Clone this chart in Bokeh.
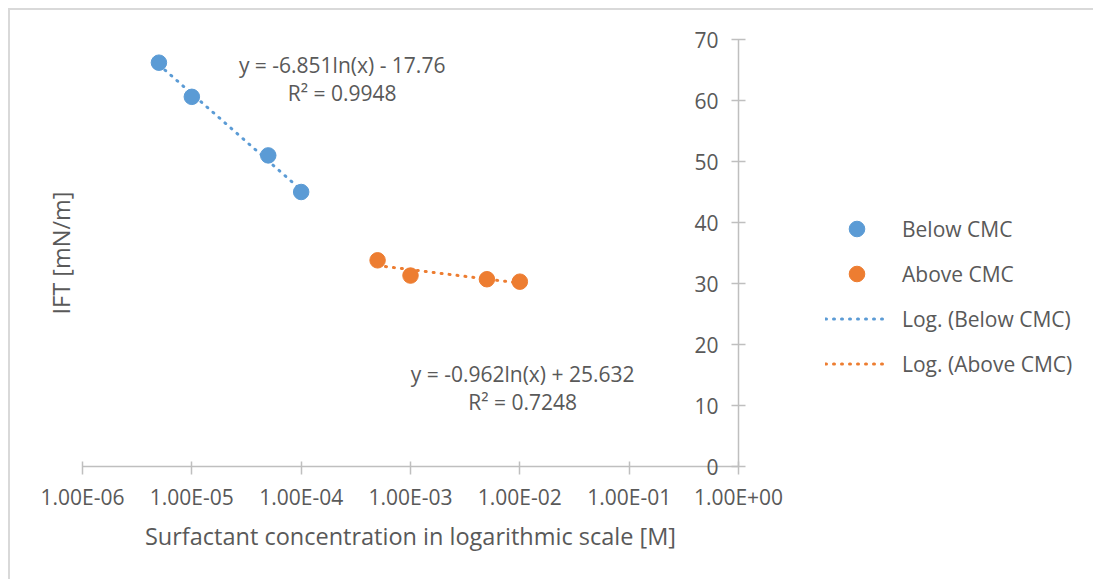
from bokeh.plotting import figure
from bokeh.models import (LinearAxis, LogAxis, FixedTicker, Label, Legend, LegendItem, Range1d)
from bokeh.embed import file_html
from bokeh.resources import INLINE
import numpy as np
import math

# ---- data ----
below_x = [5e-6, 1e-5, 5e-5, 1e-4]
below_y = [66.2, 60.6, 51.0, 45.0]
above_x = [5e-4, 1e-3, 5e-3, 1e-2]
above_y = [33.8, 31.3, 30.7, 30.3]

# trendline coefficients  y = a*ln(x) + b
below_fit = [-6.851, -17.76]
above_fit = [-0.962, 25.632]
below_eq = ["y = -6.851ln(x) - 17.76", "R² = 0.9948"]
above_eq = ["y = -0.962ln(x) + 25.632", "R² = 0.7248"]

x_ticks = [1e-6, 1e-5, 1e-4, 1e-3, 1e-2, 1e-1, 1e0]
x_tick_labels = ["1.00E-06", "1.00E-05", "1.00E-04", "1.00E-03", "1.00E-02", "1.00E-01", "1.00E+00"]
y_ticks = [0, 10, 20, 30, 40, 50, 60, 70]

series_names = ["Below CMC", "Above CMC", "Log. (Below CMC)", "Log. (Above CMC)"]
x_title = "Surfactant concentration in logarithmic scale [M]"
y_title = "IFT [mN/m]"

# ---- style / layout ----
BLUE = "#5B9BD5"
ORANGE = "#ED7D31"
TEXT = "#595959"
AXIS = "#BFBFBF"
FONT = "Open Sans"
FS = "21px"
FS_T = "23.5px"

W, H = 1083, 569
PL, PT = 72, 29          # plot area offset inside canvas
PW, PH = 656, 427        # plot area size
x_lo, x_hi = x_ticks[0], x_ticks[-1]
y_lo, y_hi = y_ticks[0], y_ticks[-1]
dec = PW / (math.log10(x_hi) - math.log10(x_lo))
ppu = PH / (y_hi - y_lo)
xr = Range1d(10 ** (math.log10(x_lo) - PL / dec), 10 ** (math.log10(x_hi) + (W - PL - PW) / dec))
yr = Range1d(y_lo - (H - PT - PH) / ppu, y_hi + PT / ppu)

p = figure(x_axis_type="log", x_range=xr, y_range=yr,
           frame_width=W, frame_height=H,
           min_border=0, x_axis_location=None, y_axis_location=None,
           output_backend="svg", toolbar_location=None,
           background_fill_color="white", border_fill_color="white")
p.outline_line_color = None
p.grid.visible = False
p.styles = {"margin-left": "8px", "margin-top": "8px",
            "border-left": "2px solid #d9d9d9", "border-top": "2px solid #d9d9d9"}

# x axis
xa = LogAxis(fixed_location=y_lo, bounds=(x_lo, x_hi))
xa.ticker = FixedTicker(ticks=x_ticks, minor_ticks=[])
xa.major_label_overrides = dict(zip(x_ticks, x_tick_labels))
xa.axis_line_color = AXIS
xa.axis_line_width = 1.5
xa.major_tick_line_color = AXIS
xa.major_tick_line_width = 1.5
xa.major_tick_in = 5
xa.major_tick_out = 8
xa.minor_tick_line_color = None
xa.major_label_text_font = FONT
xa.major_label_text_font_size = FS
xa.major_label_text_color = TEXT
xa.major_label_standoff = 8
xa.axis_label = x_title
xa.axis_label_text_font = FONT
xa.axis_label_text_font_size = FS_T
xa.axis_label_text_font_style = "normal"
xa.axis_label_text_color = TEXT
xa.axis_label_standoff = 6
p.add_layout(xa, "below")

# y axis: line at the right end of the x scale, labels to its left
ya = LinearAxis(fixed_location=x_hi, bounds=(y_lo, y_hi))
ya.ticker = FixedTicker(ticks=y_ticks, minor_ticks=[])
ya.axis_line_color = AXIS
ya.axis_line_width = 1.5
ya.major_tick_line_color = AXIS
ya.major_tick_line_width = 1.5
ya.major_tick_in = 7
ya.major_tick_out = 7
ya.minor_tick_line_color = None
ya.major_label_text_font = FONT
ya.major_label_text_font_size = FS
ya.major_label_text_color = TEXT
ya.major_label_standoff = 13
p.add_layout(ya, "left")

# y title
p.add_layout(Label(x=10 ** (math.log10(x_lo) - 22 / dec), y=(y_lo + y_hi) / 2, text=y_title,
                   angle=math.pi / 2, text_align="center", text_baseline="middle",
                   text_font=FONT, text_font_size=FS_T, text_color=TEXT))

# trendlines
def trend(xs, coef):
    xe = np.array([min(xs), max(xs)])
    return xe, coef[0] * np.log(xe) + coef[1]

bx, by = trend(below_x, below_fit)
ax_, ay = trend(above_x, above_fit)
r_lb = p.line(bx, by, line_color=BLUE, line_width=3, line_dash="1 7", line_cap="round")
r_la = p.line(ax_, ay, line_color=ORANGE, line_width=3, line_dash="1 7", line_cap="round")

# points
r_b = p.scatter(below_x, below_y, marker="circle", size=15.5, fill_color=BLUE, line_color=BLUE)
r_a = p.scatter(above_x, above_y, marker="circle", size=15.5, fill_color=ORANGE, line_color=ORANGE)

# equations
for txt, y in zip(below_eq, [65.8, 61.2]):
    p.add_layout(Label(x=2.37e-4, y=y, text=txt, text_align="center", text_baseline="middle",
                       text_font=FONT, text_font_size=FS, text_color=TEXT))
for txt, y in zip(above_eq, [15.1, 10.6]):
    p.add_layout(Label(x=1.06e-2, y=y, text=txt, text_align="center", text_baseline="middle",
                       text_font=FONT, text_font_size=FS, text_color=TEXT))

legend = Legend(items=[LegendItem(label=series_names[0], renderers=[r_b]),
                       LegendItem(label=series_names[1], renderers=[r_a]),
                       LegendItem(label=series_names[2], renderers=[r_lb]),
                       LegendItem(label=series_names[3], renderers=[r_la])],
                location=(815, 196), orientation="vertical",
                glyph_width=63, glyph_height=39, label_height=39, spacing=6,
                label_standoff=14, padding=0, margin=0,
                border_line_color=None, background_fill_alpha=0,
                label_text_font=FONT, label_text_font_size=FS, label_text_color=TEXT)
p.add_layout(legend, "center")

open("out.html", "w").write(file_html(p, INLINE))
